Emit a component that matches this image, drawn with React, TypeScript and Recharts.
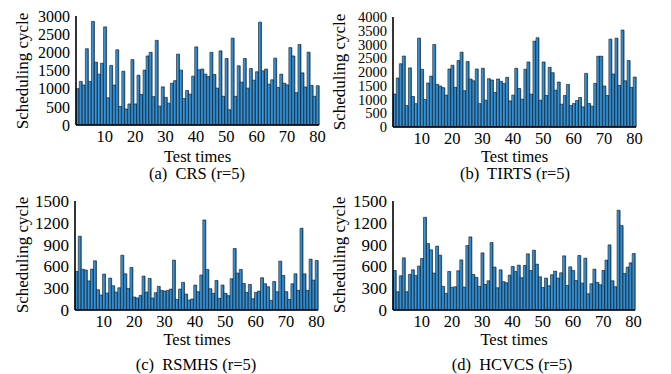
import { BarChart, Bar, XAxis, YAxis } from "recharts";

// test index 1..80
const testTimes = [
  1, 2, 3, 4, 5, 6, 7, 8, 9, 10, 11, 12, 13, 14, 15, 16, 17, 18, 19, 20,
  21, 22, 23, 24, 25, 26, 27, 28, 29, 30, 31, 32, 33, 34, 35, 36, 37, 38, 39, 40,
  41, 42, 43, 44, 45, 46, 47, 48, 49, 50, 51, 52, 53, 54, 55, 56, 57, 58, 59, 60,
  61, 62, 63, 64, 65, 66, 67, 68, 69, 70, 71, 72, 73, 74, 75, 76, 77, 78, 79, 80,
];

const crsCycles = [
  1000, 1200, 1100, 2100, 1200, 2850, 1730, 1400, 1700, 2700,
  750, 1640, 1100, 2070, 510, 1480, 440, 580, 1800, 580,
  1370, 840, 1510, 1900, 2000, 780, 2330, 520, 1050, 760,
  600, 1150, 1220, 1950, 1510, 730, 950, 850, 1345, 2150,
  1520, 1540, 1400, 1335, 2000, 1390, 1015, 2040, 790, 1830,
  420, 2390, 790, 1630, 1180, 1830, 1015, 1555, 1235, 1465,
  2830, 1490, 1540, 1125, 1245, 1840, 1035, 1400, 1150, 1105,
  2130, 1900, 890, 2215, 1435, 1045, 2005, 1090, 790, 1080,
];

const tirtsCycles = [
  1200, 1780, 2300, 2580, 780, 2150, 1110, 850, 3230, 2100,
  1000, 1600, 1850, 3000, 1550, 1490, 1430, 1160, 2110, 2245,
  1440, 2415, 2720, 1320, 2380, 1745, 1680, 2110, 850, 2135,
  975, 1756, 1710, 1255, 1745, 1660, 1585, 1805, 950, 1160,
  2135, 1400, 1010, 2100, 2365, 1195, 3120, 3245, 975, 2365,
  1146, 2170, 1975, 1340, 1635, 830, 1146, 1550, 780, 854,
  963, 1073, 732, 1950, 854, 756, 1585, 2573, 2573, 1490,
  1146, 3195, 1925, 3230, 1510, 3525, 1680, 2415, 1440, 1817,
];

const rsmhsCycles = [
  530, 1015, 560, 550, 400, 562, 677, 279, 206, 494,
  233, 439, 334, 247, 306, 754, 498, 297, 585, 178,
  165, 201, 466, 247, 434, 165, 238, 325, 270, 261,
  270, 288, 686, 146, 288, 380, 219, 137, 151, 343,
  252, 480, 1239, 558, 293, 229, 407, 160, 343, 229,
  197, 430, 846, 508, 558, 366, 242, 352, 155, 242,
  261, 444, 361, 320, 133, 393, 252, 672, 475, 252,
  146, 361, 498, 270, 1125, 498, 270, 700, 411, 681,
];

const hcvcsCycles = [
  544, 252, 471, 718, 252, 489, 553, 475, 604, 709,
  1276, 914, 828, 508, 878, 754, 325, 229, 530, 311,
  320, 540, 690, 315, 887, 1006, 489, 448, 325, 786,
  352, 402, 928, 590, 306, 553, 389, 375, 480, 599,
  530, 617, 444, 613, 773, 544, 823, 631, 457, 311,
  439, 334, 485, 535, 439, 512, 745, 338, 594, 544,
  407, 750, 370, 713, 224, 361, 562, 380, 347, 544,
  686, 896, 402, 320, 1372, 1161, 503, 590, 649, 777,
];

const xTicks = [10, 20, 30, 40, 50, 60, 70, 80];
const ticks3000 = [0, 500, 1000, 1500, 2000, 2500, 3000];
const ticks4000 = [0, 500, 1000, 1500, 2000, 2500, 3000, 3500, 4000];
const ticks1500 = [0, 300, 600, 900, 1200, 1500];

const FONT = "'Liberation Serif', 'Times New Roman', serif";

type PanelProps = {
  id: string;
  values: number[];
  yTicks: number[];
  yFont: number;
  left: number;
  top: number;
  width: number;
  axisWidth: number;
  marginTop: number;
  marginRight: number;
  marginBottom: number;
};

function Panel(p: PanelProps) {
  const data = testTimes.map((t, i) => ({ t, v: p.values[i] }));
  const yMax = p.yTicks[p.yTicks.length - 1];
  return (
    <div style={{ position: "absolute", left: p.left, top: p.top }}>
      <BarChart
        width={p.width}
        height={170}
        data={data}
        barCategoryGap="8%"
        margin={{ top: p.marginTop, right: p.marginRight, left: 0, bottom: p.marginBottom }}
      >
        <defs>
          <linearGradient id={"fill-" + p.id} x1="0" y1="0" x2="1" y2="0">
            <stop offset="0%" stopColor="#43b2ff" />
            <stop offset="55%" stopColor="#2a86cc" />
            <stop offset="100%" stopColor="#1c5888" />
          </linearGradient>
        </defs>
        <XAxis
          xAxisId="bottom"
          dataKey="t"
          ticks={xTicks}
          interval={0}
          height={30}
          tickLine={false}
          tickSize={5}
          tickMargin={0}
          axisLine={{ stroke: "#000", strokeWidth: 1.6 }}
          tick={{ fill: "#000", fontSize: 16.5, fontFamily: FONT }}
        />
        <XAxis
          xAxisId="top"
          dataKey="t"
          orientation="top"
          height={0}
          tick={false}
          tickLine={false}
          axisLine={{ stroke: "#666", strokeWidth: 1 }}
        />
        <YAxis
          yAxisId="left"
          width={p.axisWidth}
          domain={[0, yMax]}
          ticks={p.yTicks}
          interval={0}
          tickLine={false}
          tickMargin={0}
          axisLine={{ stroke: "#000", strokeWidth: 1.6 }}
          tick={{ fill: "#000", fontSize: p.yFont, fontFamily: FONT }}
        />
        <YAxis
          yAxisId="right"
          orientation="right"
          width={0}
          domain={[0, yMax]}
          tick={false}
          tickLine={false}
          axisLine={{ stroke: "#666", strokeWidth: 1 }}
        />
        <Bar
          xAxisId="bottom"
          yAxisId="left"
          dataKey="v"
          fill={"url(#fill-" + p.id + ")"}
          stroke="#0d0d0d"
          strokeWidth={0.6}
          isAnimationActive={false}
        />
      </BarChart>
    </div>
  );
}

const textBase: React.CSSProperties = {
  position: "absolute",
  fontFamily: FONT,
  color: "#000",
  whiteSpace: "pre",
  lineHeight: 1,
};

function XTitle({ cx, top }: { cx: number; top: number }) {
  return (
    <div
      style={{ ...textBase, left: cx, top, fontSize: 16.5, lineHeight: 0.7, transform: "translateX(-50%)" }}
    >
      Test times
    </div>
  );
}

function YTitle({ cx, cy }: { cx: number; cy: number }) {
  return (
    <div
      style={{
        ...textBase,
        left: cx,
        top: cy,
        fontSize: 17,
        transform: "translate(-50%, -50%) rotate(-90deg)",
      }}
    >
      Scheduling cycle
    </div>
  );
}

function Caption({ cx, top, text }: { cx: number; top: number; text: string }) {
  return (
    <div style={{ ...textBase, left: cx, top, fontSize: 16.5, transform: "translateX(-50%)" }}>
      {text}
    </div>
  );
}

export default function App() {
  return (
    <div style={{ position: "absolute", left: 0, top: 0, width: 671, height: 374, background: "#fff" }}>
      <Panel id="a" values={crsCycles} yTicks={ticks3000} yFont={16} left={0} top={0} width={330}
        axisWidth={76} marginTop={16} marginRight={11} marginBottom={15} />
      <Panel id="b" values={tirtsCycles} yTicks={ticks4000} yFont={14.5} left={330} top={0} width={341}
        axisWidth={63} marginTop={17} marginRight={35} marginBottom={13} />
      <Panel id="c" values={rsmhsCycles} yTicks={ticks1500} yFont={17} left={0} top={185} width={330}
        axisWidth={75} marginTop={16} marginRight={12} marginBottom={15} />
      <Panel id="d" values={hcvcsCycles} yTicks={ticks1500} yFont={17} left={330} top={185} width={341}
        axisWidth={63} marginTop={16} marginRight={36} marginBottom={15} />

      <YTitle cx={21.5} cy={70.5} />
      <YTitle cx={339} cy={72} />
      <YTitle cx={21.5} cy={255} />
      <YTitle cx={339} cy={255} />

      <XTitle cx={197.5} top={150.7} />
      <XTitle cx={514.5} top={151.2} />
      <XTitle cx={197} top={334.2} />
      <XTitle cx={514} top={334.2} />

      <Caption cx={197} top={165.5} text="(a)  CRS (r=5)" />
      <Caption cx={515} top={165.5} text="(b)  TIRTS (r=5)" />
      <Caption cx={196} top={356.5} text="(c)  RSMHS (r=5)" />
      <Caption cx={512} top={356.5} text="(d)  HCVCS (r=5)" />
    </div>
  );
}
